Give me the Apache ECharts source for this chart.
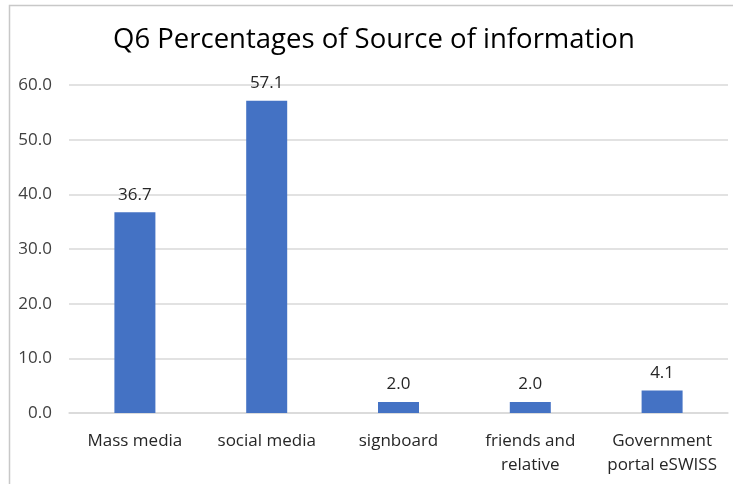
<!DOCTYPE html>
<html><head><meta charset="utf-8">
<script src="https://cdn.jsdelivr.net/npm/echarts@6/dist/echarts.min.js"></script>
<style>html,body{margin:0;padding:0;background:#fff}#c{width:733px;height:484px}</style>
</head><body><div id="c"></div>
<script>
const categories = ['Mass media', 'social media', 'signboard', 'friends and\nrelative', 'Government\nportal eSWISS'];
const values = [36.7, 57.1, 2.0, 2.0, 4.1];
const yTicks = { min: 0, max: 60, interval: 10 };
const titleText = 'Q6 Percentages of Source of information';

const chart = echarts.init(document.getElementById('c'), null, { renderer: 'canvas' });
chart.setOption({
  animation: false,
  graphic: [{
    type: 'rect', shape: { x: 9.5, y: 5.5, width: 760, height: 520 },
    style: { fill: 'none', stroke: '#c8c8c8', lineWidth: 1.5 }, silent: true, z: -1
  }],
  title: {
    text: titleText, left: 108, top: 21,
    textStyle: { fontFamily: 'Open Sans', fontWeight: 'normal', fontSize: 27.5, color: '#000' }
  },
  grid: { left: 69, right: 5, top: 85, bottom: 71, containLabel: false },
  xAxis: {
    type: 'category', data: categories,
    axisLine: { lineStyle: { color: '#d9d9d9', width: 1.5 } },
    axisTick: { show: false },
    axisLabel: { color: '#262626', fontFamily: 'Open Sans', fontSize: 17, margin: 16, lineHeight: 24, interval: 0 }
  },
  yAxis: {
    type: 'value', min: yTicks.min, max: yTicks.max, interval: yTicks.interval,
    axisLine: { show: false }, axisTick: { show: false },
    axisLabel: { color: '#404040', fontFamily: 'Open Sans', fontSize: 17, margin: 17, formatter: v => v.toFixed(1) },
    splitLine: { lineStyle: { color: '#d9d9d9', width: 1.5 } }
  },
  series: [{
    type: 'bar', data: values, barWidth: 41,
    itemStyle: { color: '#4472C4' },
    label: { show: true, position: 'top', distance: 9, color: '#262626', fontFamily: 'Open Sans', fontSize: 17, formatter: p => p.value.toFixed(1) }
  }]
});
</script></body></html>
